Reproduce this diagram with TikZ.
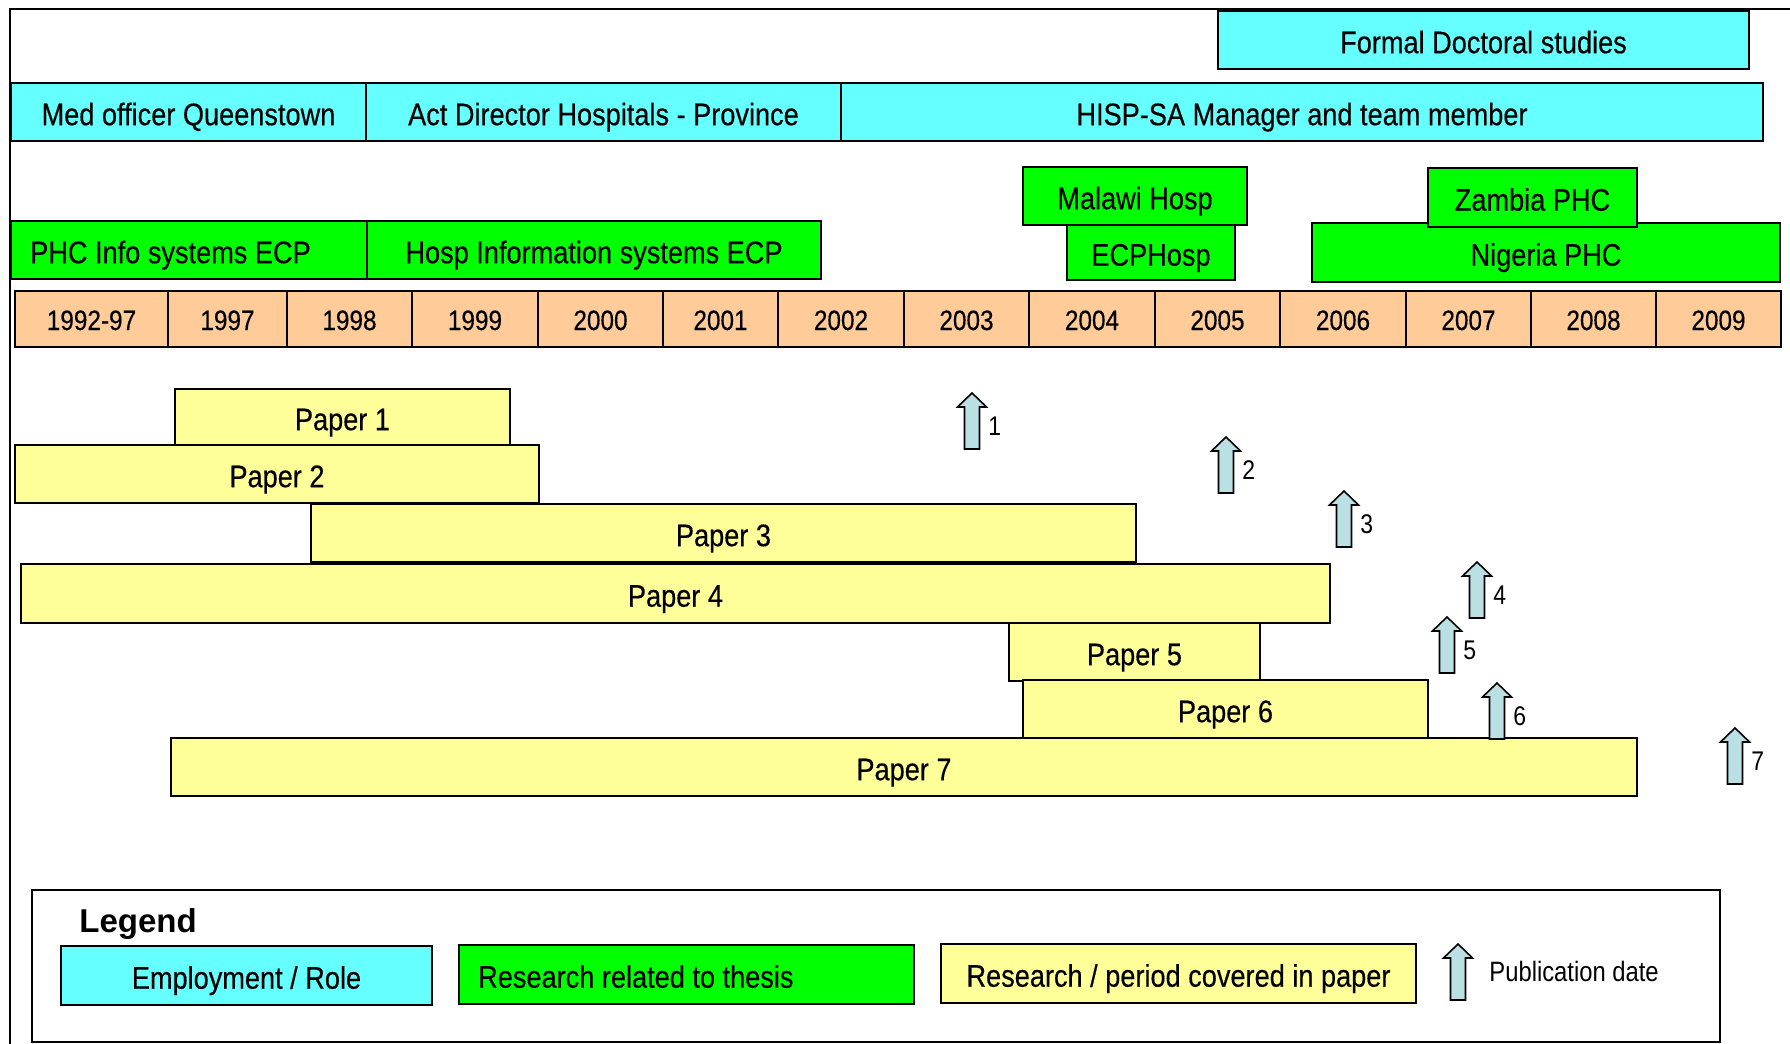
\documentclass[tikz,border=0pt]{standalone}
\usepackage{fontspec}
\setmainfont{Liberation Sans}[FakeStretch=0.85]
\newfontfamily\barfont{Liberation Sans}[FakeStretch=0.87, FakeBold=0.35]
\newfontfamily\legendfont{Liberation Sans}
\usetikzlibrary{fit}

\definecolor{rolecyan}{RGB}{102,255,255}
\definecolor{thesisgreen}{RGB}{0,255,0}
\definecolor{yearpeach}{RGB}{255,204,153}
\definecolor{paperyellow}{RGB}{255,255,153}
\definecolor{pubblue}{RGB}{187,224,228}

\tikzset{
  bar/.style={draw=black, line width=1.2pt, inner sep=0pt},
  rolebar/.style={bar, fill=rolecyan},
  thesisbar/.style={bar, fill=thesisgreen},
  paperbar/.style={bar, fill=paperyellow},
  yearcell/.style={bar, fill=yearpeach},
  bartext/.style={inner sep=0pt, yshift=-1pt,
    font=\barfont\fontsize{15.6}{18}\selectfont, text height=11.2pt, text depth=0pt},
  yeartext/.style={inner sep=0pt, yshift=-0.5pt,
    font=\barfont\fontsize{14}{16}\selectfont, text height=10pt, text depth=0pt},
  numlabel/.style={inner sep=0pt, anchor=west,
    font=\fontsize{13.5}{16}\selectfont, text height=9.7pt, text depth=0pt},
  pubarrow/.pic={
    \draw[fill=pubblue, line width=0.8pt, line join=miter]
      (0,0) -- (14.5,14) -- (7.5,14) -- (7.5,56) -- (-7.5,56)
      -- (-7.5,14) -- (-14.5,14) -- cycle;
    \coordinate (-tip) at (0,0);
  }
}

% a rectangle node spanning two corners, with its text centred in it
\newcommand{\barnode}[8]{%
  \node[#1, fit={(#3,#4) (#5,#6)}] (#2) {};
  \node[#7] (#2-text) at (#2.center) {#8};}
% the same rectangle with its text set towards the left edge
\newcommand{\barnodeleft}[7]{%
  \node[#1, fit={(#3,#4) (#5,#6)}] (#2) {};
  \node[bartext, anchor=west] (#2-text) at ([xshift=10pt]#2.west) {#7};}

\begin{document}
\begin{tikzpicture}[x=0.5pt, y=-0.5pt]
\useasboundingbox (0,0) rectangle (1790,1044);

% outer frame (top and left edges)
\coordinate (framebl) at (10,1044);
\coordinate (frametl) at (10,9);
\coordinate (frametr) at (1790,9);
\draw[line width=1pt] (framebl) -- (frametl) -- (frametr);

% employment / roles
\barnode{rolebar}{doct}{1218}{11}{1749}{69}{bartext}{Formal Doctoral studies}
\barnode{rolebar}{medoff}{11}{83}{366}{141}{bartext}{Med officer Queenstown}
\barnode{rolebar}{actdir}{366}{83}{841}{141}{bartext}{Act Director Hospitals - Province}
\barnode{rolebar}{hisp}{841}{83}{1763}{141}{bartext}{HISP-SA Manager and team member}

% research related to the thesis
\barnodeleft{thesisbar}{phcinfo}{11}{221}{367}{279}{PHC Info systems ECP}
\barnode{thesisbar}{hospinfo}{367}{221}{821}{279}{bartext}{Hosp Information systems ECP}
\barnode{thesisbar}{ecphosp}{1067}{225}{1235}{280}{bartext}{ECPHosp}
\barnode{thesisbar}{malawi}{1023}{167}{1247}{225}{bartext}{Malawi Hosp}
\barnode{thesisbar}{nigeria}{1312}{223}{1780}{282}{bartext}{Nigeria PHC}
\barnode{thesisbar}{zambia}{1428}{168}{1637}{227}{bartext}{Zambia PHC}

% time axis
\barnode{yearcell}{y9297}{15}{291}{168}{347}{yeartext}{1992-97}
\barnode{yearcell}{y1997}{168}{291}{287}{347}{yeartext}{1997}
\barnode{yearcell}{y1998}{287}{291}{412}{347}{yeartext}{1998}
\barnode{yearcell}{y1999}{412}{291}{538}{347}{yeartext}{1999}
\barnode{yearcell}{y2000}{538}{291}{663}{347}{yeartext}{2000}
\barnode{yearcell}{y2001}{663}{291}{778}{347}{yeartext}{2001}
\barnode{yearcell}{y2002}{778}{291}{904}{347}{yeartext}{2002}
\barnode{yearcell}{y2003}{904}{291}{1029}{347}{yeartext}{2003}
\barnode{yearcell}{y2004}{1029}{291}{1155}{347}{yeartext}{2004}
\barnode{yearcell}{y2005}{1155}{291}{1280}{347}{yeartext}{2005}
\barnode{yearcell}{y2006}{1280}{291}{1406}{347}{yeartext}{2006}
\barnode{yearcell}{y2007}{1406}{291}{1531}{347}{yeartext}{2007}
\barnode{yearcell}{y2008}{1531}{291}{1656}{347}{yeartext}{2008}
\barnode{yearcell}{y2009}{1656}{291}{1781}{347}{yeartext}{2009}

% periods covered by the papers
\barnode{paperbar}{paper1}{175}{389}{510}{445}{bartext}{Paper 1}
\barnode{paperbar}{paper2}{15}{445}{539}{503}{bartext}{Paper 2}
\barnode{paperbar}{paper3}{311}{504}{1136}{562}{bartext}{Paper 3}
\barnode{paperbar}{paper4}{21}{564}{1330}{623}{bartext}{Paper 4}
\barnode{paperbar}{paper5}{1009}{623}{1260}{681}{bartext}{Paper 5}
\barnode{paperbar}{paper6}{1023}{680}{1428}{738}{bartext}{Paper 6}
\barnode{paperbar}{paper7}{171}{738}{1637}{796}{bartext}{Paper 7}

% publication dates
\pic (pub1) at (972,393) {pubarrow};
\pic (pub2) at (1226,437) {pubarrow};
\pic (pub3) at (1344,491) {pubarrow};
\pic (pub4) at (1477,562) {pubarrow};
\pic (pub5) at (1447,617) {pubarrow};
\pic (pub6) at (1497,683) {pubarrow};
\pic (pub7) at (1735,728) {pubarrow};
\node[numlabel] (lab1) at ([shift={(16,33)}]pub1-tip) {1};
\node[numlabel] (lab2) at ([shift={(16,33)}]pub2-tip) {2};
\node[numlabel] (lab3) at ([shift={(16,33)}]pub3-tip) {3};
\node[numlabel] (lab4) at ([shift={(16,33)}]pub4-tip) {4};
\node[numlabel] (lab5) at ([shift={(16,33)}]pub5-tip) {5};
\node[numlabel] (lab6) at ([shift={(16,33)}]pub6-tip) {6};
\node[numlabel] (lab7) at ([shift={(16,33)}]pub7-tip) {7};

% legend
\node[draw=black, line width=1pt, fill=white, inner sep=0pt,
      fit={(32,890) (1720,1042)}] (legendframe) {};
\node[inner sep=0pt, anchor=west, font=\legendfont\bfseries\fontsize{16.5}{19}\selectfont,
      text height=11.8pt, text depth=0pt] (legendtitle) at (79,921) {Legend};
\barnode{rolebar}{keyrole}{61}{946}{432}{1005}{bartext}{Employment / Role}
\barnodeleft{thesisbar}{keythesis}{459}{945}{914}{1004}{Research related to thesis}
\barnode{paperbar}{keypaper}{941}{944}{1416}{1003}{bartext}{Research / period covered in paper}
\pic (keypub) at (1458,944) {pubarrow};
\node[inner sep=0pt, anchor=west, font=\fontsize{14}{16}\selectfont,
      text height=10pt, text depth=0pt] (keypubtext) at (1489,971) {Publication date};

\end{tikzpicture}
\end{document}
